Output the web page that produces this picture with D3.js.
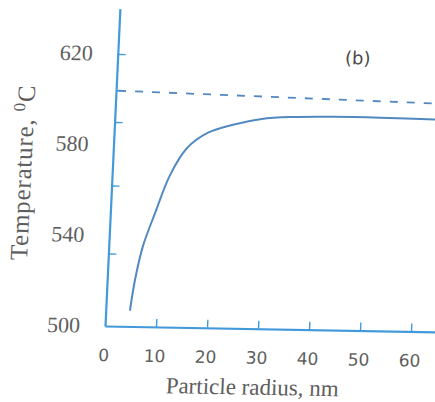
<!DOCTYPE html>
<html>
<head>
<meta charset="utf-8">
<script src="https://cdn.jsdelivr.net/npm/d3@7"></script>
<style>
  body { margin: 0; background: #fff; }
  svg { display: block; }
</style>
</head>
<body>
<div id="chart"></div>
<script>
// particle radius (nm) vs temperature (C)
var radius = [4.75, 5.45, 6.7, 8.75, 11.35, 14.4, 18.4, 23.0, 28.8, 35, 42.7, 52, 64];
var temp   = [507, 520.5, 535.5, 550, 567, 579, 586, 589.6, 592.5, 593.6, 594, 594, 593.6];

// dashed reference level
var refX = [0.4, 64];
var refT = [603.8, 600.6];

var xTicks = [10, 20, 30, 40, 50, 60];
var xLabels = [0, 10, 20, 30, 40, 50, 60];
var yTicks = [620, 604, 590, 562, 532];
var yLabels = [500, 540, 580, 620];

var W = 435, H = 402;
var ox = 105, oy = 326;

var x = d3.scaleLinear().domain([0, 65]).range([ox, ox + 331.5]);
var y = d3.scaleLinear().domain([500, 640]).range([oy, oy - 317.4]);

var svg = d3.select("#chart").append("svg")
  .attr("width", W)
  .attr("height", H);

// the scanned figure is a little tilted/sheared
var g = svg.append("g")
  .attr("transform", "translate(" + ox + "," + oy + ") matrix(1,0.018,-0.047,1,0,0) translate(" + (-ox) + "," + (-oy) + ")");

var axisCol = "#429ada";
var lineCol = "#5289c0";
var txtCol = "#5e5e5e";

// x axis
var xa = g.append("g")
  .attr("transform", "translate(0," + oy + ")")
  .call(d3.axisBottom(x).tickValues(xTicks).tickSizeInner(-8).tickSizeOuter(0).tickFormat(""));
xa.select(".domain").attr("stroke", axisCol).attr("stroke-width", 2.2);
xa.selectAll(".tick line").attr("stroke", axisCol).attr("stroke-width", 1.4);

g.selectAll(".xlab")
  .data(xLabels)
  .enter().append("text")
  .attr("class", "xlab")
  .attr("x", function(d) { return x(d); })
  .attr("y", oy + 35)
  .attr("text-anchor", "middle")
  .style("font-family", "'DejaVu Sans', sans-serif")
  .style("font-size", "17px")
  .style("fill", txtCol)
  .text(function(d) { return d; });

// y axis
var ya = g.append("g")
  .attr("transform", "translate(" + ox + ",0)")
  .call(d3.axisLeft(y).tickValues(yTicks).tickSizeInner(-8).tickSizeOuter(0).tickFormat(""));
ya.select(".domain").attr("stroke", axisCol).attr("stroke-width", 2.2);
ya.selectAll(".tick line").attr("stroke", axisCol).attr("stroke-width", 1.4);

g.selectAll(".ylab")
  .data(yLabels)
  .enter().append("text")
  .attr("class", "ylab")
  .attr("x", ox - 25)
  .attr("y", function(d) { return y(d) + 7; })
  .attr("text-anchor", "end")
  .style("font-family", "'Liberation Serif', serif")
  .style("font-size", "22px")
  .style("fill", txtCol)
  .text(function(d) { return d; });

// curves
var line = d3.line()
  .x(function(d) { return x(d[0]); })
  .y(function(d) { return y(d[1]); })
  .curve(d3.curveCatmullRom);

g.append("path")
  .datum(d3.zip(refX, refT))
  .attr("d", line)
  .attr("fill", "none")
  .attr("stroke", lineCol)
  .attr("stroke-width", 1.8)
  .attr("stroke-dasharray", "8,9");

g.append("path")
  .datum(d3.zip(radius, temp))
  .attr("d", line)
  .attr("fill", "none")
  .attr("stroke", lineCol)
  .attr("stroke-width", 2);

// titles
g.append("text")
  .attr("x", 255)
  .attr("y", 392)
  .attr("text-anchor", "middle")
  .style("font-family", "'Liberation Serif', serif")
  .style("font-size", "23px")
  .style("fill", txtCol)
  .text("Particle radius, nm");

var yt = g.append("text")
  .attr("transform", "translate(24,174) rotate(-90)")
  .attr("text-anchor", "middle")
  .style("font-family", "'Liberation Serif', serif")
  .style("font-size", "25px")
  .style("letter-spacing", "0.8px")
  .style("fill", txtCol);
yt.append("tspan").text("Temperature, ");
yt.append("tspan").attr("dy", -9).style("font-size", "17px").text("0");
yt.append("tspan").attr("dy", 9).text("C");

g.append("text")
  .attr("x", 345)
  .attr("y", 60)
  .attr("text-anchor", "middle")
  .style("font-family", "'DejaVu Sans', sans-serif")
  .style("font-size", "18px")
  .style("fill", "#4a4a4a")
  .text("(b)");
</script>
</body>
</html>
